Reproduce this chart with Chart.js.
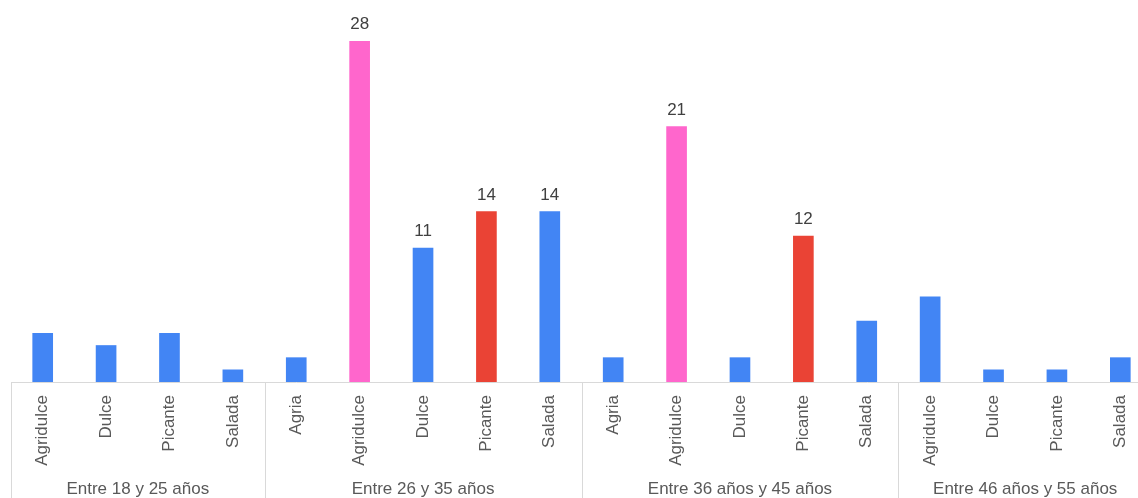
<!DOCTYPE html>
<html>
<head>
<meta charset="utf-8">
<script src="https://cdn.jsdelivr.net/npm/chart.js@4/dist/chart.umd.min.js"></script>
<style>
	html, body { margin: 0; padding: 0; background: #fff; overflow: hidden; }
	#wrap { width: 1152px; height: 498px; position: relative; }
</style>
</head>
<body>
<div id="wrap"><canvas id="myChart"></canvas></div>
<script>
// age groups and the flavours inside each one
const groupNames = [
	"Entre 18 y 25 años",
	"Entre 26 y 35 años",
	"Entre 36 años y 45 años",
	"Entre 46 años y 55 años",
];
const groupFlavors = [
	["Agridulce", "Dulce", "Picante", "Salada"],
	["Agria", "Agridulce", "Dulce", "Picante", "Salada"],
	["Agria", "Agridulce", "Dulce", "Picante", "Salada"],
	["Agridulce", "Dulce", "Picante", "Salada"],
];
const groupValues = [
	[4, 3, 4, 1],
	[2, 28, 11, 14, 14],
	[2, 21, 2, 12, 5],
	[7, 1, 1, 2],
];

const FONT = "'Liberation Sans', Arial, sans-serif";
const BLUE = "#4285F4";
const PINK = "#FF66CC";
const RED = "#EA4335";
const LINE = "#d9d9d9";

// flatten groups into one category axis
const labels = groupFlavors.flat();
const values = groupValues.flat();

// big bars get a value label, some of them a highlight colour
const colors = labels.map((flavor, i) => {
	if (values[i] >= 10 && flavor === "Agridulce") return PINK;
	if (values[i] >= 10 && flavor === "Picante") return RED;
	return BLUE;
});

// draws group separators, group names and value labels
const groupAxis = {
	id: "groupAxis",
	afterDraw(chart) {
		const ctx = chart.ctx;
		const x = chart.scales.x;
		const area = chart.chartArea;
		const step = x.getPixelForValue(1) - x.getPixelForValue(0);
		ctx.save();
		ctx.strokeStyle = LINE;
		ctx.lineWidth = 1;
		ctx.fillStyle = "#595959";
		ctx.font = "17px " + FONT;
		ctx.textAlign = "center";
		ctx.textBaseline = "middle";
		let start = 0;
		groupFlavors.forEach((flavors, g) => {
			const left = x.getPixelForValue(start) - step / 2;
			const right = x.getPixelForValue(start + flavors.length - 1) + step / 2;
			const lx = Math.round(left) + 0.5;
			ctx.beginPath();
			ctx.moveTo(lx, area.bottom);
			ctx.lineTo(lx, chart.height);
			ctx.stroke();
			ctx.fillText(groupNames[g], (left + right) / 2, 489);
			start += flavors.length;
		});

		// value labels on top of the tall bars
		const meta = chart.getDatasetMeta(0);
		ctx.fillStyle = "#404040";
		ctx.textBaseline = "alphabetic";
		meta.data.forEach((bar, i) => {
			if (values[i] >= 10) {
				ctx.fillText(values[i], bar.x, bar.y - 12);
			}
		});
		ctx.restore();
	},
};

const chart = new Chart(document.getElementById("myChart"), {
	type: "bar",
	data: {
		labels: labels,
		datasets: [
			{
				data: values,
				backgroundColor: colors,
				borderWidth: 0,
				barThickness: 20,
			},
		],
	},
	options: {
		responsive: true,
		maintainAspectRatio: false,
		animation: false,
		layout: { padding: { left: 11, right: 0, top: 0, bottom: 0 } },
		plugins: {
			legend: { display: false },
			tooltip: { enabled: false },
		},
		scales: {
			x: {
				grid: { display: false },
				border: { display: true, color: LINE, width: 1 },
				ticks: {
					autoSkip: false,
					maxRotation: 90,
					minRotation: 90,
					padding: 5,
					color: "#595959",
					font: { family: FONT, size: 17 },
				},
				afterFit(scale) {
					scale.height = 116;
				},
			},
			y: {
				display: false,
				min: 0,
				max: 31.4,
			},
		},
	},
	plugins: [groupAxis],
});
</script>
</body>
</html>
